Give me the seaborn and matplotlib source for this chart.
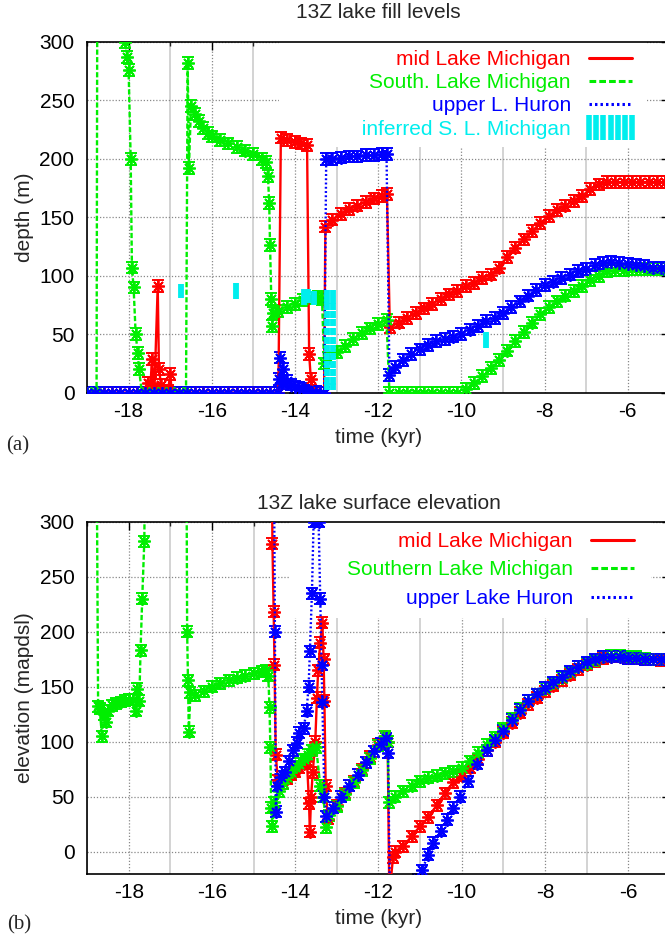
import numpy as np
import pandas as pd
import matplotlib
matplotlib.use("Agg")
import matplotlib.pyplot as plt
from matplotlib.lines import Line2D
from matplotlib.ticker import MultipleLocator
import seaborn as sns

sns.set_style("white")
plt.rcParams['font.family'] = ['Liberation Sans', 'DejaVu Sans']
plt.rcParams['axes.unicode_minus'] = False

RED, GREEN, BLUE, CYAN = '#ff0000', '#00ee00', '#0000ff', '#00eeee'
FS = 15
ERR = 5

# ---- panel (a): lake fill depth (m), (time kyr, depth) ----
fill_mid_mich = [
    (-19.0, 0), (-18.8, 0), (-18.6, 0), (-18.4, 0), (-18.2, 0), (-18.0, 0), (-17.8, 0), (-17.6, 0),
    (-17.53, 8), (-17.47, 8), (-17.44, 29), (-17.38, 2), (-17.3, 91), (-17.27, 20), (-17.22, 7),
    (-17.15, 2), (-17.05, 2), (-17.0, 16), (-16.96, 0),
    (-16.8, 0), (-16.6, 0), (-16.4, 0), (-16.2, 0), (-16.0, 0), (-15.8, 0), (-15.6, 0), (-15.4, 0),
    (-15.2, 0), (-15.0, 0), (-14.8, 0), (-14.6, 0), (-14.4, 0),
    (-14.34, 218), (-14.2, 216), (-14.0, 214), (-13.85, 213), (-13.71, 212), (-13.66, 33),
    (-13.62, 12), (-13.55, 0), (-13.4, 0), (-13.3, 0),
    (-13.27, 142), (-13.1, 148), (-12.9, 153), (-12.7, 157), (-12.5, 160), (-12.3, 163),
    (-12.1, 166), (-11.9, 168), (-11.79, 170),
    (-11.72, 56), (-11.5, 60), (-11.3, 64), (-11.1, 68), (-10.9, 72), (-10.7, 76), (-10.5, 80),
    (-10.3, 84), (-10.1, 87), (-9.9, 91), (-9.7, 94), (-9.5, 98), (-9.3, 101), (-9.1, 107),
    (-8.9, 116), (-8.7, 124), (-8.5, 131), (-8.3, 138), (-8.1, 145), (-7.9, 151), (-7.7, 156),
    (-7.5, 160), (-7.3, 164), (-7.1, 168), (-6.9, 174), (-6.7, 178), (-6.5, 180), (-6.3, 180),
    (-6.1, 180), (-5.9, 180), (-5.7, 180), (-5.5, 180), (-5.3, 180), (-5.1, 180), (-5.0, 180),
]

fill_south_mich = [
    (-19.0, 0), (-18.9, 0), (-18.8, 0), (-18.77, 0), (-18.74, 600), (-18.1, 320), (-18.08, 300),
    (-18.03, 287), (-18.0, 276), (-17.95, 200), (-17.92, 107), (-17.88, 90), (-17.83, 50),
    (-17.78, 34), (-17.75, 20), (-17.68, 0), (-17.5, 0), (-17.3, 0), (-17.1, 0), (-16.9, 0),
    (-16.7, 0), (-16.62, 0), (-16.58, 282), (-16.55, 192), (-16.5, 245), (-16.4, 238),
    (-16.3, 232), (-16.2, 226), (-16.1, 222), (-16.0, 219), (-15.8, 216), (-15.6, 213),
    (-15.4, 210), (-15.2, 207), (-15.0, 204), (-14.8, 200), (-14.7, 197), (-14.65, 185),
    (-14.62, 162), (-14.6, 126), (-14.57, 80), (-14.55, 57), (-14.52, 68), (-14.4, 70),
    (-14.2, 73), (-14.0, 76), (-13.8, 79), (-13.6, 81), (-13.45, 82), (-13.35, 80), (-13.3, 25),
    (-13.2, 30), (-13.0, 35), (-12.8, 40), (-12.6, 46), (-12.4, 51), (-12.2, 55), (-12.0, 59),
    (-11.8, 62), (-11.73, 0), (-11.5, 0), (-11.3, 0), (-11.1, 0), (-10.9, 0), (-10.7, 0),
    (-10.5, 0), (-10.3, 0), (-10.1, 0), (-9.9, 3), (-9.7, 8), (-9.5, 14), (-9.3, 21), (-9.1, 28),
    (-8.9, 36), (-8.7, 44), (-8.5, 52), (-8.3, 60), (-8.1, 67), (-7.9, 73), (-7.7, 78),
    (-7.5, 83), (-7.3, 87), (-7.1, 91), (-6.9, 96), (-6.7, 100), (-6.5, 104), (-6.3, 105),
    (-6.1, 105), (-5.9, 106), (-5.7, 106), (-5.5, 106), (-5.3, 106), (-5.1, 106), (-5.0, 106),
]

fill_upper_huron = [
    (-19.0, 0), (-18.8, 0), (-18.6, 0), (-18.4, 0), (-18.2, 0), (-18.0, 0), (-17.8, 0), (-17.6, 0),
    (-17.4, 0), (-17.2, 0), (-17.0, 0), (-16.8, 0), (-16.6, 0), (-16.4, 0), (-16.2, 0), (-16.0, 0),
    (-15.8, 0), (-15.6, 0), (-15.4, 0), (-15.2, 0), (-15.0, 0), (-14.8, 0), (-14.6, 0), (-14.4, 0),
    (-14.38, 12), (-14.35, 30), (-14.32, 8), (-14.28, 20), (-14.2, 10), (-14.1, 7), (-14.0, 5),
    (-13.9, 4), (-13.8, 3), (-13.7, 2), (-13.6, 1), (-13.5, 1), (-13.4, 0), (-13.3, 0),
    (-13.25, 200), (-13.1, 200), (-12.9, 201), (-12.7, 202), (-12.5, 202), (-12.3, 203),
    (-12.1, 203), (-11.9, 204), (-11.8, 204), (-11.73, 15), (-11.6, 22), (-11.4, 28),
    (-11.2, 33), (-11.0, 37), (-10.8, 41), (-10.6, 44), (-10.4, 46), (-10.2, 48), (-10.0, 50),
    (-9.8, 54), (-9.6, 57), (-9.4, 61), (-9.2, 64), (-9.0, 68), (-8.8, 73), (-8.6, 78),
    (-8.4, 83), (-8.2, 88), (-8.0, 92), (-7.8, 95), (-7.6, 98), (-7.4, 101), (-7.2, 104),
    (-7.0, 106), (-6.8, 109), (-6.6, 111), (-6.4, 112), (-6.2, 111), (-6.0, 110), (-5.8, 109),
    (-5.6, 108), (-5.4, 107), (-5.2, 107), (-5.0, 106),
]

# inferred southern Lake Michigan levels: (time, depth, half range)
inferred_s_mich = [
    (-16.73, 87, 6), (-15.43, 87, 7), (-13.78, 82, 7), (-13.68, 83, 6), (-13.55, 81, 6),
    (-13.22, 82, 6), (-13.08, 82, 6),
    (-13.22, 74, 3), (-13.08, 74, 3), (-13.22, 67, 3), (-13.08, 67, 3), (-13.22, 60, 3),
    (-13.08, 60, 3), (-13.22, 52, 3), (-13.08, 52, 3), (-13.22, 45, 3), (-13.08, 45, 3),
    (-13.22, 38, 3), (-13.08, 38, 3), (-13.22, 31, 3), (-13.08, 31, 3), (-13.22, 24, 3),
    (-13.08, 24, 3), (-13.22, 17, 3), (-13.08, 17, 3), (-13.22, 10, 3), (-13.08, 10, 3),
    (-13.22, 5, 3), (-13.08, 5, 3),
    (-9.4, 45, 7),
]

# ---- panel (b): lake surface elevation (m apdsl) ----
elev_mid_mich = [
    (-14.57, 400), (-14.55, 280), (-14.52, 218), (-14.5, 170), (-14.47, 88), (-14.42, 65),
    (-14.3, 62), (-14.2, 66), (-14.1, 70), (-14.0, 73), (-13.9, 76), (-13.8, 80), (-13.72, 82),
    (-13.67, 44), (-13.65, 18), (-13.62, 50), (-13.58, 72), (-13.52, 100), (-13.48, 140),
    (-13.45, 165), (-13.4, 190), (-13.35, 208), (-13.32, 175), (-13.3, 137), (-13.27, 60),
    (-13.22, 30), (-13.0, 42), (-12.8, 53), (-12.6, 64), (-12.4, 75), (-12.2, 86), (-12.0, 97),
    (-11.85, 105), (-11.78, 100), (-11.74, -40), (-11.65, -5), (-11.6, 0), (-11.4, 5),
    (-11.2, 14), (-11.0, 23), (-10.8, 31), (-10.6, 42), (-10.4, 53), (-10.2, 63), (-10.0, 69),
    (-9.8, 76), (-9.6, 84), (-9.4, 92), (-9.2, 100), (-9.0, 108), (-8.8, 117), (-8.6, 126),
    (-8.4, 134), (-8.2, 140), (-8.0, 146), (-7.8, 151), (-7.6, 156), (-7.4, 161), (-7.2, 166),
    (-7.0, 170), (-6.8, 173), (-6.6, 176), (-6.4, 177), (-6.2, 177), (-6.0, 176), (-5.8, 176),
    (-5.6, 175), (-5.4, 175), (-5.2, 174), (-5.0, 174),
]

elev_south_mich = [
    (-18.78, 400), (-18.74, 132), (-18.7, 130), (-18.65, 105), (-18.6, 125), (-18.55, 118),
    (-18.5, 128), (-18.4, 133), (-18.3, 135), (-18.2, 136), (-18.1, 137), (-18.0, 138),
    (-17.9, 138), (-17.83, 128), (-17.8, 148), (-17.75, 137), (-17.72, 183), (-17.68, 230),
    (-17.63, 282), (-17.6, 400), (-16.62, 400), (-16.6, 200), (-16.58, 156), (-16.56, 109),
    (-16.52, 145), (-16.4, 142), (-16.2, 146), (-16.0, 150), (-15.8, 153), (-15.6, 156),
    (-15.4, 158), (-15.2, 160), (-15.0, 162), (-14.8, 164), (-14.7, 165), (-14.65, 160),
    (-14.62, 131), (-14.6, 95), (-14.58, 40), (-14.55, 23), (-14.5, 45), (-14.4, 55),
    (-14.3, 62), (-14.2, 68), (-14.1, 72), (-14.0, 77), (-13.9, 80), (-13.8, 84), (-13.7, 88),
    (-13.6, 92), (-13.5, 95), (-13.4, 60), (-13.33, 50), (-13.25, 22), (-13.2, 33), (-13.0, 41),
    (-12.8, 52), (-12.6, 63), (-12.4, 74), (-12.2, 85), (-12.0, 96), (-11.85, 105),
    (-11.78, 100), (-11.75, 45), (-11.6, 50), (-11.4, 55), (-11.2, 60), (-11.0, 64),
    (-10.8, 67), (-10.6, 69), (-10.4, 71), (-10.2, 73), (-10.0, 76), (-9.8, 82), (-9.6, 90),
    (-9.4, 97), (-9.2, 104), (-9.0, 112), (-8.8, 121), (-8.6, 130), (-8.4, 137), (-8.2, 143),
    (-8.0, 148), (-7.8, 153), (-7.6, 158), (-7.4, 163), (-7.2, 168), (-7.0, 171), (-6.8, 174),
    (-6.6, 177), (-6.4, 178), (-6.2, 178), (-6.0, 177), (-5.8, 177), (-5.6, 176), (-5.4, 175),
    (-5.2, 175), (-5.0, 175),
]

elev_upper_huron = [
    (-14.52, 400), (-14.49, 200), (-14.47, 36), (-14.43, 60), (-14.35, 68), (-14.25, 72),
    (-14.15, 82), (-14.05, 92), (-13.97, 99), (-13.9, 108), (-13.8, 112), (-13.73, 128),
    (-13.68, 150), (-13.65, 182), (-13.6, 235), (-13.56, 300), (-13.5, 420), (-13.44, 300),
    (-13.4, 230), (-13.37, 170), (-13.35, 136), (-13.3, 50), (-13.25, 32), (-13.1, 40),
    (-12.9, 50), (-12.7, 60), (-12.5, 70), (-12.3, 81), (-12.1, 91), (-11.95, 98),
    (-11.82, 103), (-11.77, 90), (-11.72, -60), (-11.05, -25), (-10.96, -17), (-10.8, -3),
    (-10.68, 8), (-10.5, 19), (-10.36, 29), (-10.2, 40), (-10.04, 50), (-9.85, 64), (-9.64, 80),
    (-9.4, 92), (-9.2, 101), (-9.0, 110), (-8.8, 120), (-8.6, 129), (-8.4, 137), (-8.2, 143),
    (-8.0, 149), (-7.8, 154), (-7.6, 159), (-7.4, 164), (-7.2, 168), (-7.0, 172), (-6.8, 175),
    (-6.6, 177), (-6.4, 177), (-6.2, 177), (-6.0, 176), (-5.8, 176), (-5.6, 175), (-5.4, 175),
    (-5.2, 175), (-5.0, 175),
]

LS_SOLID = '-'
LS_DASH = (0, (2.2, 1.0))
LS_DOT = (0, (0.8, 1.0))


def draw_series(ax, pts, color, ls):
    df = pd.DataFrame(pts, columns=['t', 'v'])
    ax.errorbar(df['t'], df['v'], yerr=ERR, fmt='none', ecolor=color,
                elinewidth=1.4, capsize=4, capthick=1.4, zorder=2)
    sns.lineplot(data=df, x='t', y='v', ax=ax, color=color, linestyle=ls,
                 linewidth=1.7, marker=(8, 2, 0), markersize=9,
                 markeredgecolor=color, markeredgewidth=1.3,
                 estimator=None, sort=False, legend=False, zorder=3)


def style_axes(ax, ymin):
    ax.set_xlim(-19, -5)
    ax.set_ylim(ymin, 300)
    ax.xaxis.set_major_locator(MultipleLocator(2))
    ax.xaxis.set_minor_locator(MultipleLocator(1))
    ax.yaxis.set_major_locator(MultipleLocator(50))
    ax.set_axisbelow(True)
    ax.grid(which='major', axis='both', color='#888888', linestyle=(0, (1, 1.5)), linewidth=0.9)
    ax.grid(which='minor', axis='x', color='#d0d0d0', linestyle='-', linewidth=1.3)
    ax.tick_params(which='major', direction='in', length=6, width=1, top=True, right=True,
                   labelsize=FS, colors='black')
    ax.tick_params(which='minor', direction='in', length=3, width=1, top=True)
    ax.tick_params(axis='x', pad=7)
    ax.tick_params(axis='y', pad=9)
    for sp in ax.spines.values():
        sp.set_color('black')
        sp.set_linewidth(1.2)
    ax.set_xlabel("time (kyr)", fontsize=FS, labelpad=5)


def make_legend(ax, labels, n, anchor_x, pad, spacing):
    handles = [
        Line2D([], [], color=RED, lw=2.2, linestyle=LS_SOLID),
        Line2D([], [], color=GREEN, lw=2.2, linestyle=LS_DASH),
        Line2D([], [], color=BLUE, lw=2.2, linestyle=LS_DOT),
        Line2D([], [], color=CYAN, linestyle='none', marker='|', markersize=18, markeredgewidth=4),
    ][:n]
    leg = ax.legend(handles, labels, loc='upper right', bbox_to_anchor=(anchor_x, 1.0),
                    markerfirst=False, frameon=True, fancybox=False, edgecolor='none',
                    facecolor='white', framealpha=1, borderpad=pad, labelspacing=spacing,
                    handlelength=2.7, handletextpad=0.55, numpoints=7, fontsize=FS,
                    borderaxespad=0)
    # key box hides the grid but stays under the data
    leg.set_zorder(1)
    for txt, h in zip(leg.get_texts(), handles):
        txt.set_color(h.get_color())


W, H = 665, 936
fig = plt.figure(figsize=(W / 100, H / 100), dpi=100)

# ---------- (a) ----------
ax1 = fig.add_axes([87 / W, (H - 392.7) / H, 582.4 / W, 351 / H])
draw_series(ax1, fill_mid_mich, RED, LS_SOLID)
draw_series(ax1, fill_south_mich, GREEN, LS_DASH)
draw_series(ax1, fill_upper_huron, BLUE, LS_DOT)
inf = pd.DataFrame(inferred_s_mich, columns=['t', 'v', 'h'])
ax1.errorbar(inf['t'], inf['v'], yerr=inf['h'], fmt='none', ecolor=CYAN,
             elinewidth=4.2, capsize=0, zorder=4)
style_axes(ax1, 0)
ax1.set_ylabel("depth (m)", fontsize=FS, labelpad=4)
ax1.set_title("13Z lake fill levels", fontsize=FS, pad=17)
# gnuplot's key box is wider than its text; leading blanks widen the white box
make_legend(ax1, ["mid Lake Michigan", "South. Lake Michigan", "upper L. Huron",
                  " " * 13 + "inferred S. L. Michigan"], 4, (647 - 87) / 582.4, 0.4, 0.2)
fig.text(18 / W, 1 - 446 / H, "(a)", family=['Liberation Serif', 'DejaVu Serif'],
         fontsize=FS, ha='center', va='center')

# ---------- (b) ----------
ax2 = fig.add_axes([87.3 / W, (H - 873.5) / H, 582.4 / W, 351.8 / H])
draw_series(ax2, elev_mid_mich, RED, LS_SOLID)
draw_series(ax2, elev_south_mich, GREEN, LS_DASH)
draw_series(ax2, elev_upper_huron, BLUE, LS_DOT)
style_axes(ax2, -20)
ax2.set_ylabel("elevation (mapdsl)", fontsize=FS, labelpad=4)
ax2.set_title("13Z lake surface elevation", fontsize=FS, pad=9.5)
make_legend(ax2, ["mid Lake Michigan", " " * 8 + "Southern Lake Michigan", "upper Lake Huron"],
            3, (651 - 87.3) / 582.4, 0.5, 0.45)
fig.text(19 / W, 1 - 925 / H, "(b)", family=['Liberation Serif', 'DejaVu Serif'],
         fontsize=FS, ha='center', va='center')

fig.savefig("out.png", dpi=100)
